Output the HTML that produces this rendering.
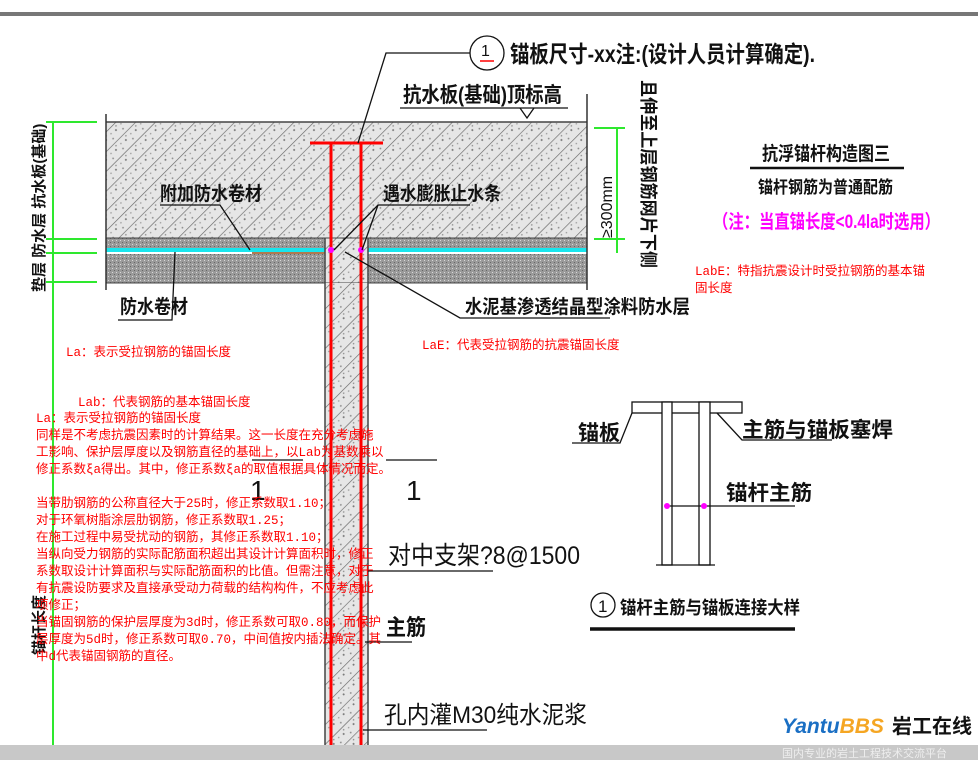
<!DOCTYPE html>
<html><head><meta charset="utf-8"><style>
html,body{margin:0;padding:0;background:#fff;}
svg{display:block;}
.t{font-family:"Liberation Sans","Noto Sans CJK SC",sans-serif;font-weight:bold;fill:#111;}
.r{font-family:"Liberation Mono","Noto Sans CJK SC",monospace;fill:#f00;font-size:12.5px;}
</style></head><body>
<svg width="978" height="760" viewBox="0 0 978 760" xmlns="http://www.w3.org/2000/svg">
<defs>
<pattern id="h" width="14" height="14" patternUnits="userSpaceOnUse" patternTransform="rotate(-45)">
<rect width="14" height="14" fill="#e6e6e6"/>
<line x1="0" y1="0" x2="14" y2="0" stroke="#666" stroke-width="1.3"/>
<circle cx="4" cy="6" r="1" fill="#777"/><circle cx="10" cy="10" r="0.9" fill="#888"/><circle cx="7" cy="3" r="0.8" fill="#888"/><circle cx="12" cy="5" r="0.8" fill="#999"/>
</pattern>
<pattern id="g" width="4" height="4" patternUnits="userSpaceOnUse">
<rect width="4" height="4" fill="#9a9a9a"/><rect width="1" height="1" fill="#d8d8d8"/><rect x="2" y="2" width="1" height="1" fill="#666"/>
</pattern>
</defs>
<rect x="0" y="12" width="978" height="4" fill="#777"/>
<rect x="106" y="122" width="481" height="116" fill="url(#h)"/>
<rect x="106" y="238" width="481" height="12" fill="url(#g)"/>
<rect x="106" y="248" width="481" height="4" fill="#18e6ee"/>
<rect x="252" y="252" width="115" height="3" fill="#b07a50"/>
<rect x="106" y="254" width="481" height="29" fill="url(#g)"/>
<rect x="325" y="238" width="43" height="46" fill="url(#h)"/>
<line x1="106" y1="122" x2="587" y2="122" stroke="#444" stroke-width="1.5"/>
<line x1="106" y1="238" x2="587" y2="238" stroke="#444"/>
<line x1="106" y1="283" x2="587" y2="283" stroke="#444"/>
<line x1="106" y1="114" x2="106" y2="290" stroke="#333" stroke-width="1.5"/>
<line x1="587" y1="94" x2="587" y2="290" stroke="#333" stroke-width="1.5"/>
<rect x="325" y="283" width="43" height="462" fill="url(#h)"/>
<line x1="325" y1="238" x2="325" y2="745" stroke="#444" stroke-width="1.5"/>
<line x1="368" y1="238" x2="368" y2="745" stroke="#444" stroke-width="1.5"/>
<line x1="310" y1="143" x2="383" y2="143" stroke="#f00" stroke-width="3"/>
<line x1="331" y1="143" x2="331" y2="745" stroke="#f00" stroke-width="3"/>
<line x1="361" y1="143" x2="361" y2="745" stroke="#f00" stroke-width="3"/>
<circle cx="331" cy="250" r="3" fill="#f0f"/><circle cx="361" cy="250" r="3" fill="#f0f"/>
<g stroke="#2ee82e" stroke-width="2">
<line x1="53" y1="122" x2="53" y2="745"/>
<line x1="46" y1="122" x2="97" y2="122"/><line x1="46" y1="239" x2="97" y2="239"/>
<line x1="46" y1="253" x2="97" y2="253"/><line x1="46" y1="282" x2="97" y2="282"/>
<line x1="617" y1="128" x2="617" y2="253"/>
<line x1="594" y1="128" x2="625" y2="128"/><line x1="594" y1="239" x2="625" y2="239"/>
</g>
<g stroke="#111" stroke-width="1.3" fill="none">
<polyline points="358,143 386,53 470,53"/>
<circle cx="487" cy="53" r="17" fill="#fff"/>
<line x1="400" y1="108" x2="568" y2="108"/>
<polyline points="520,108 527,118 534,108"/>
<polyline points="250,250 220,205 160,205"/>
<polyline points="175,252 172,320 118,320"/>
<polyline points="334,250 378,205 470,205"/>
<line x1="362" y1="250" x2="378" y2="205"/>
<polyline points="345,252 460,318 610,318"/>
<line x1="252" y1="460" x2="303" y2="460"/><line x1="386" y1="460" x2="437" y2="460"/>
<line x1="368" y1="571" x2="493" y2="571"/>
<line x1="365" y1="642" x2="412" y2="642"/>
<line x1="363" y1="730" x2="487" y2="730"/>
<line x1="750" y1="168" x2="904" y2="168" stroke-width="2.5"/>
</g>
<line x1="480" y1="61" x2="494" y2="61" stroke="#f00" stroke-width="1.5"/>
<text x="481" y="56" class="t" style="font-size:16px;font-weight:normal">1</text>
<text x="510" y="62" class="t" style="font-size:23px" textLength="305" lengthAdjust="spacingAndGlyphs">锚板尺寸-xx注:(设计人员计算确定).</text>
<text x="403" y="102" class="t" style="font-size:21px" textLength="159" lengthAdjust="spacingAndGlyphs">抗水板(基础)顶标高</text>
<text x="160" y="200" class="t" style="font-size:19px" textLength="102" lengthAdjust="spacingAndGlyphs">附加防水卷材</text>
<text x="383" y="200" class="t" style="font-size:19px" textLength="118" lengthAdjust="spacingAndGlyphs">遇水膨胀止水条</text>
<text x="120" y="313" class="t" style="font-size:19px" textLength="68" lengthAdjust="spacingAndGlyphs">防水卷材</text>
<text x="465" y="313" class="t" style="font-size:19px" textLength="225" lengthAdjust="spacingAndGlyphs">水泥基渗透结晶型涂料防水层</text>
<text transform="translate(642,80) rotate(90)" class="t" style="font-size:18px" textLength="188" lengthAdjust="spacingAndGlyphs">且伸至上层钢筋网片下侧</text>
<text transform="translate(612,238) rotate(-90)" class="t" style="font-size:16px;font-weight:normal">≥300mm</text>
<text transform="translate(44,292) rotate(-90)" class="t" style="font-size:15px">垫层 防水层 抗水板(基础)</text>
<text transform="translate(44,655) rotate(-90)" class="t" style="font-size:15px">锚杆长度</text>
<text x="762" y="160" class="t" style="font-size:19px" textLength="128" lengthAdjust="spacingAndGlyphs">抗浮锚杆构造图三</text>
<text x="758" y="193" class="t" style="font-size:17px" textLength="135" lengthAdjust="spacingAndGlyphs">锚杆钢筋为普通配筋</text>
<text x="713" y="228" class="t" style="font-size:19px;fill:#f0f" textLength="227" lengthAdjust="spacingAndGlyphs">（注：当直锚长度&lt;0.4la时选用）</text>
<text x="250" y="500" class="t" style="font-size:28px;font-weight:normal">1</text>
<text x="406" y="500" class="t" style="font-size:28px;font-weight:normal">1</text>
<text x="388" y="564" class="t" style="font-size:25px;font-weight:normal" textLength="192" lengthAdjust="spacingAndGlyphs">对中支架?8@1500</text>
<text x="386" y="635" class="t" style="font-size:22px" textLength="40" lengthAdjust="spacingAndGlyphs">主筋</text>
<text x="384" y="723" class="t" style="font-size:24px;font-weight:normal" textLength="203" lengthAdjust="spacingAndGlyphs">孔内灌M30纯水泥浆</text>
<g stroke="#111" stroke-width="1.3" fill="none">
<rect x="632" y="402" width="110" height="11" fill="#fff"/>
<rect x="662" y="402" width="10" height="163" fill="#fff"/>
<rect x="699" y="402" width="11" height="163" fill="#fff"/>
<line x1="656" y1="565" x2="715" y2="565"/>
<polyline points="632,413 620,443 572,443"/>
<polyline points="717,413 742,440 832,440"/>
<line x1="667" y1="506" x2="795" y2="506"/>
<line x1="590" y1="629" x2="795" y2="629" stroke-width="3.5"/>
<circle cx="603" cy="605" r="12"/>
</g>
<circle cx="667" cy="506" r="3" fill="#f0f"/><circle cx="704" cy="506" r="3" fill="#f0f"/>
<text x="598" y="612" class="t" style="font-size:17px;font-weight:normal">1</text>
<text x="578" y="440" class="t" style="font-size:21px" textLength="42" lengthAdjust="spacingAndGlyphs">锚板</text>
<text x="742" y="437" class="t" style="font-size:21px" textLength="151" lengthAdjust="spacingAndGlyphs">主筋与锚板塞焊</text>
<text x="726" y="500" class="t" style="font-size:21px" textLength="86" lengthAdjust="spacingAndGlyphs">锚杆主筋</text>
<text x="620" y="614" class="t" style="font-size:18px" textLength="180" lengthAdjust="spacingAndGlyphs">锚杆主筋与锚板连接大样</text>
<text x="695" y="275" class="r">LabE：特指抗震设计时受拉钢筋的基本锚</text>
<text x="695" y="292" class="r">固长度</text>
<text x="66" y="356" class="r">La：表示受拉钢筋的锚固长度</text>
<text x="422" y="349" class="r">LaE：代表受拉钢筋的抗震锚固长度</text>
<text x="78" y="406" class="r">Lab：代表钢筋的基本锚固长度</text>
<text x="36" y="422" class="r">La：表示受拉钢筋的锚固长度</text>
<text x="36" y="439" class="r">同样是不考虑抗震因素时的计算结果。这一长度在充分考虑施</text>
<text x="36" y="456" class="r">工影响、保护层厚度以及钢筋直径的基础上，以Lab为基数乘以</text>
<text x="36" y="473" class="r">修正系数ξa得出。其中，修正系数ξa的取值根据具体情况而定。</text>
<text x="36" y="507" class="r">当带肋钢筋的公称直径大于25时，修正系数取1.10；</text>
<text x="36" y="524" class="r">对于环氧树脂涂层肋钢筋，修正系数取1.25；</text>
<text x="36" y="541" class="r">在施工过程中易受扰动的钢筋，其修正系数取1.10；</text>
<text x="36" y="558" class="r">当纵向受力钢筋的实际配筋面积超出其设计计算面积时，修正</text>
<text x="36" y="575" class="r">系数取设计计算面积与实际配筋面积的比值。但需注意，对于</text>
<text x="36" y="592" class="r">有抗震设防要求及直接承受动力荷载的结构构件，不应考虑此</text>
<text x="36" y="609" class="r">项修正；</text>
<text x="36" y="626" class="r">当锚固钢筋的保护层厚度为3d时，修正系数可取0.80，而保护</text>
<text x="36" y="643" class="r">层厚度为5d时，修正系数可取0.70，中间值按内插法确定。其</text>
<text x="36" y="660" class="r">中d代表锚固钢筋的直径。</text>
<text x="782" y="733" style="font-family:'Liberation Sans',sans-serif;font-style:italic;font-weight:bold;font-size:21px;fill:#1a6fc4">Yantu<tspan fill="#f5a623">BBS</tspan></text>
<text x="892" y="733" class="t" style="font-size:20px">岩工在线</text>
<rect x="0" y="745" width="978" height="15" fill="#c8c8c8"/>
<text x="782" y="757" style="font-family:'Liberation Sans','Noto Sans CJK SC',sans-serif;font-size:11px;fill:#eee">国内专业的岩土工程技术交流平台</text>
</svg>
</body></html>
